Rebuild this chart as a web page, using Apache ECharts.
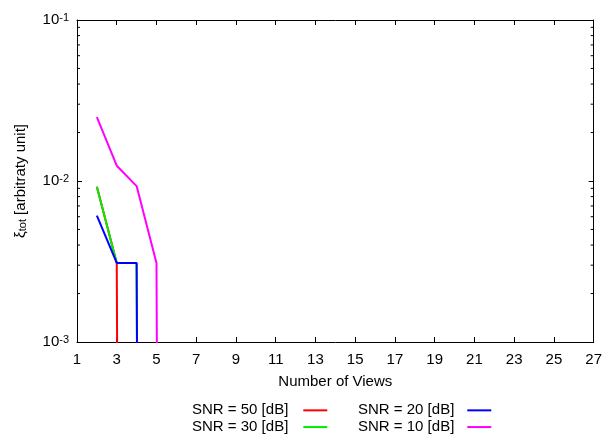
<!DOCTYPE html>
<html>
<head>
<meta charset="utf-8">
<script src="https://cdn.jsdelivr.net/npm/echarts@6/dist/echarts.min.js"></script>
<style>
html,body{margin:0;padding:0;background:#fff;}
#chart{width:605px;height:443px;}
</style>
</head>
<body>
<div id="chart"></div>
<script>
// ---- data ----
const views = [2,3,4,5,6,7,8,9,10,11,12,13,14,15,16,17,18,19,20,21,22,23,24,25,26,27];
const snr50 = [0.0092,0.0031,0,0,0,0,0,0,0,0,0,0,0,0,0,0,0,0,0,0,0,0,0,0,0,0];
const snr30 = [0.0092,0.0031,0.0031,0,0,0,0,0,0,0,0,0,0,0,0,0,0,0,0,0,0,0,0,0,0,0];
const snr20 = [0.0061,0.0031,0.0031,0,0,0,0,0,0,0,0,0,0,0,0,0,0,0,0,0,0,0,0,0,0,0];
const snr10 = [0.0249,0.01245,0.0093,0.0031,0,0,0,0,0,0,0,0,0,0,0,0,0,0,0,0,0,0,0,0,0,0];
const seriesNames = ['SNR = 50 [dB]','SNR = 30 [dB]','SNR = 20 [dB]','SNR = 10 [dB]'];
const xTicks = [1,3,5,7,9,11,13,15,17,19,21,23,25,27];
const yMajorTicks = [0.001,0.01,0.1];
const yMinorTicks = [0.002,0.003,0.004,0.005,0.006,0.007,0.008,0.009,
                     0.02,0.03,0.04,0.05,0.06,0.07,0.08,0.09];

// zero cannot be shown on a log axis: plot it far below the visible range (clipped)
const FLOOR = 1e-30;
const FONT = "'Liberation Sans', Arial, Helvetica, sans-serif";
const colors = ['#ff0000','#00ee00','#0000ff','#ff00ff'];

function toData(vals){ return views.map((x,i)=>[x, vals[i] > 0 ? vals[i] : FLOOR]); }

const chart = echarts.init(document.getElementById('chart'), null, {renderer:'canvas'});

const lineSeries = [snr50, snr30, snr20, snr10].map((vals, i) => ({
  name: seriesNames[i],
  type: 'line',
  data: toData(vals),
  symbol: 'none',
  color: colors[i],
  lineStyle: {color: colors[i], width: 2},
  clip: true,
  animation: false,
  xAxisIndex: 0, yAxisIndex: 0
}));

const minorSeries = {
  type: 'custom',
  silent: true,
  animation: false,
  xAxisIndex: 0, yAxisIndex: 0,
  clip: false,
  data: yMinorTicks.map(v => [xTicks[0], v]),
  renderItem: function(params, api){
    const v = api.value(1);
    const pL = api.coord([xTicks[0], v]);
    const pR = api.coord([xTicks[xTicks.length-1], v]);
    const st = {stroke:'#000', lineWidth:1};
    return {type:'group', children:[
      {type:'line', shape:{x1:pL[0], y1:pL[1], x2:pL[0]+3, y2:pL[1]}, style:st},
      {type:'line', shape:{x1:pR[0]-3, y1:pR[1], x2:pR[0], y2:pR[1]}, style:st}
    ]};
  }
};

const axisLineStyle = {show:true, lineStyle:{color:'#000', width:1}};
const tickStyle = {show:true, inside:true, length:5, lineStyle:{color:'#000', width:1}};

const option = {
  backgroundColor:'#fff',
  animation:false,
  textStyle:{fontFamily:FONT},
  grid:{left:77, right:10, top:20, bottom:101, containLabel:false},
  xAxis:[{
    type:'value', min:xTicks[0], max:xTicks[xTicks.length-1], interval:2,
    position:'bottom',
    axisLine:axisLineStyle, axisTick:tickStyle, splitLine:{show:false},
    axisLabel:{color:'#000', fontSize:15, fontFamily:FONT, margin:10},
    name:'Number of Views', nameLocation:'middle', nameGap:32,
    nameTextStyle:{color:'#000', fontSize:15, fontFamily:FONT}
  },{
    type:'value', min:xTicks[0], max:xTicks[xTicks.length-1], interval:2,
    position:'top',
    axisLine:axisLineStyle, axisTick:tickStyle, splitLine:{show:false},
    axisLabel:{show:false}
  }],
  yAxis:[{
    type:'log', logBase:10, min:yMajorTicks[0], max:yMajorTicks[yMajorTicks.length-1], interval:1,
    position:'left',
    axisLine:axisLineStyle, axisTick:tickStyle, splitLine:{show:false},
    axisLabel:{
      margin:8,
      formatter: v => '{b|10}{sup|' + Math.round(Math.log10(v)) + '}',
      rich:{
        b:{fontSize:15, fontFamily:FONT, color:'#000', lineHeight:15, padding:[2,0,0,0], verticalAlign:'bottom'},
        sup:{fontSize:11, fontFamily:FONT, color:'#000', lineHeight:11, verticalAlign:'top'}
      }
    },
    name:'{m|ξ}{sub|tot}{m| [arbitraty unit]}', nameLocation:'middle', nameGap:44,
    nameTextStyle:{
      rich:{
        m:{fontSize:15, fontFamily:FONT, color:'#000', lineHeight:15, padding:[0,0,3,0], verticalAlign:'top'},
        sub:{fontSize:11, fontFamily:FONT, color:'#000', lineHeight:11, verticalAlign:'bottom'}
      }
    }
  },{
    type:'log', logBase:10, min:yMajorTicks[0], max:yMajorTicks[yMajorTicks.length-1], interval:1,
    position:'right',
    axisLine:axisLineStyle, axisTick:tickStyle, splitLine:{show:false},
    axisLabel:{show:false}
  }],
  legend:[{
    data:[seriesNames[0], seriesNames[1]],
    orient:'vertical', left:192, top:402, padding:0, itemGap:0,
    align:'right', icon:'rect', itemWidth:24, itemHeight:2,
    selectedMode:false,
    textStyle:{color:'#000', fontSize:15, fontFamily:FONT, lineHeight:16.7, padding:[0,10,0,0]}
  },{
    data:[seriesNames[2], seriesNames[3]],
    orient:'vertical', left:358, top:402, padding:0, itemGap:0,
    align:'right', icon:'rect', itemWidth:24, itemHeight:2,
    selectedMode:false,
    textStyle:{color:'#000', fontSize:15, fontFamily:FONT, lineHeight:16.7, padding:[0,8,0,0]}
  }],
  series: lineSeries.concat([minorSeries])
};

chart.setOption(option);
</script>
</body>
</html>
